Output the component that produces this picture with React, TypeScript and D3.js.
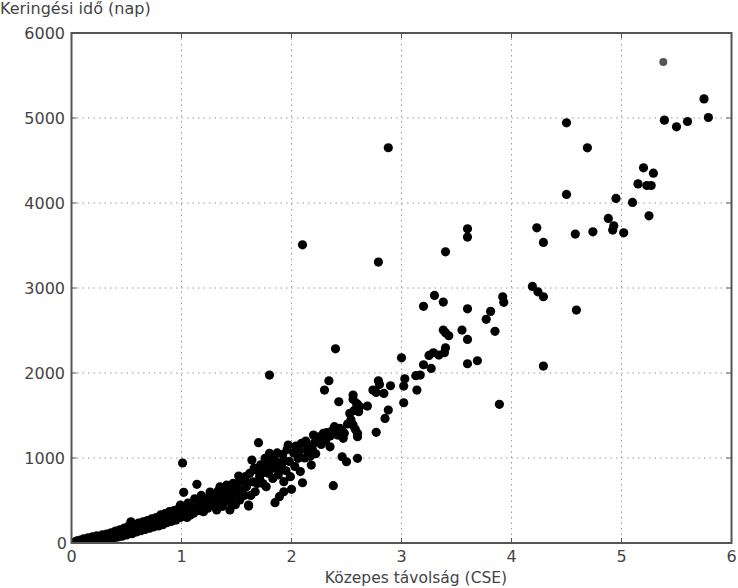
import * as d3 from "d3";

type Pt = [number, number];

// mean distance (AU) , orbital period (days)
const band0to1: Pt[] = [
  [0.01, 2], [0.03, 10], [0.04, 0], [0.05, 25], [0.07, 8], [0.08, 35], [0.1, 15], [0.11, 48],
  [0.12, 0], [0.14, 30], [0.15, 60], [0.17, 12], [0.18, 45], [0.19, 72], [0.21, 25], [0.22, 58],
  [0.23, 85], [0.25, 10], [0.26, 40], [0.27, 75], [0.28, 95], [0.3, 30], [0.31, 60], [0.32, 105],
  [0.34, 45], [0.35, 85], [0.36, 120], [0.38, 55], [0.39, 100], [0.4, 140], [0.42, 70], [0.43, 115],
  [0.44, 155], [0.46, 80], [0.47, 130], [0.48, 175], [0.5, 95], [0.51, 150], [0.52, 200], [0.54, 250],
  [0.55, 110], [0.56, 165], [0.57, 215], [0.59, 130], [0.6, 185], [0.61, 235], [0.63, 145], [0.64, 200],
  [0.65, 250], [0.67, 160], [0.68, 220], [0.69, 265], [0.71, 175], [0.72, 235], [0.73, 285], [0.75, 190],
  [0.76, 250], [0.77, 300], [0.79, 200], [0.8, 270], [0.81, 330], [0.83, 215], [0.84, 290], [0.85, 345],
  [0.87, 240], [0.88, 305], [0.89, 370], [0.91, 255], [0.92, 320], [0.93, 380], [0.95, 270], [0.96, 345],
  [0.97, 400], [0.99, 300], [0.99, 447],
];

const band1to2: Pt[] = [
  [1.01, 941], [1.02, 596], [1.14, 690], [1.08, 447], [1.08, 329], [1.2, 506], [1.2, 368], [1.29, 564],
  [1.32, 388], [1.35, 662], [1.38, 466], [1.44, 486], [1.44, 388], [1.47, 702], [1.5, 584], [1.52, 788],
  [1.53, 506], [1.56, 623], [1.59, 702], [1.59, 662], [1.61, 447], [1.61, 435], [1.64, 976], [1.67, 603],
  [1.68, 858], [1.7, 1180], [1.71, 741], [1.71, 780], [1.76, 996], [1.77, 662], [1.8, 1976], [1.8, 1055],
  [1.83, 760], [1.85, 474], [1.89, 545], [1.9, 858], [1.93, 976], [1.93, 721], [1.93, 603], [1.97, 1152],
  [1.99, 780],
  [1.02, 380], [1.04, 430], [1.05, 300], [1.06, 470], [1.1, 400], [1.11, 350], [1.12, 520], [1.15, 420],
  [1.16, 470], [1.17, 380], [1.18, 560], [1.22, 450], [1.23, 520], [1.24, 410], [1.26, 600], [1.27, 480],
  [1.3, 440], [1.31, 530], [1.33, 610], [1.34, 500], [1.36, 560], [1.37, 430], [1.39, 620], [1.4, 530],
  [1.41, 680], [1.42, 580], [1.45, 640], [1.46, 540], [1.48, 660], [1.49, 450], [1.51, 700], [1.54, 620],
  [1.55, 740], [1.57, 560], [1.58, 780], [1.6, 700], [1.62, 820], [1.63, 560], [1.65, 720], [1.66, 880],
  [1.69, 700], [1.72, 920], [1.73, 820], [1.74, 700], [1.75, 860], [1.78, 940], [1.79, 820], [1.81, 900],
  [1.82, 1000], [1.84, 880], [1.86, 960], [1.87, 1060], [1.88, 800], [1.91, 920], [1.92, 1040], [1.95, 850],
  [1.96, 1100], [1.98, 960],
];

const band2to3: Pt[] = [
  [2.0, 631], [2.06, 996], [2.09, 1172], [2.1, 3508], [2.1, 709], [2.14, 1094], [2.18, 917], [2.2, 1270],
  [2.24, 1211], [2.29, 1290], [2.3, 1799], [2.34, 1909], [2.35, 1258], [2.35, 1132], [2.38, 674], [2.39, 1368],
  [2.4, 2285], [2.43, 1662], [2.46, 1321], [2.46, 1015], [2.47, 1231], [2.5, 956], [2.53, 1525], [2.55, 1399],
  [2.56, 1740], [2.56, 1690], [2.56, 1388], [2.58, 1337], [2.59, 1643], [2.6, 1631], [2.6, 1290], [2.6, 1250],
  [2.6, 996], [2.61, 1544], [2.62, 1603], [2.69, 1611], [2.74, 1799], [2.77, 1772], [2.77, 1302], [2.79, 1909],
  [2.79, 3305], [2.8, 1866], [2.84, 1760], [2.85, 1466], [2.88, 1564], [2.88, 4650], [2.9, 1850],
  [2.02, 1060], [2.03, 900], [2.04, 1140], [2.07, 1080], [2.08, 840], [2.12, 1000], [2.13, 1200], [2.16, 1150],
  [2.17, 1020], [2.19, 1100], [2.21, 1180], [2.22, 1050], [2.25, 1250], [2.27, 1160], [2.28, 1220], [2.31, 1200],
  [2.32, 1300], [2.37, 1320], [2.42, 1270], [2.44, 1350], [2.48, 1290], [2.51, 1400], [2.54, 1450], [2.57, 1560],
];

const band3to4: Pt[] = [
  [3.0, 2179], [3.02, 1846], [3.02, 1650], [3.03, 1932], [3.13, 1968], [3.14, 1799], [3.17, 1976], [3.2, 2097],
  [3.2, 2784], [3.25, 2207], [3.27, 2054], [3.29, 2238], [3.3, 2913], [3.34, 2211], [3.38, 2834], [3.38, 2505],
  [3.39, 2238], [3.4, 3426], [3.4, 2473], [3.4, 2297], [3.43, 2438], [3.55, 2505], [3.6, 3696], [3.6, 3599],
  [3.6, 2755], [3.6, 2395], [3.6, 2109], [3.69, 2144], [3.77, 2631], [3.81, 2725], [3.85, 2490], [3.89, 1631],
  [3.92, 2897], [3.93, 2831],
];

const band4to6: Pt[] = [
  [4.19, 3019], [4.23, 3708], [4.24, 2955], [4.29, 3536], [4.29, 2897], [4.29, 2082], [4.5, 4943], [4.5, 4101],
  [4.58, 3634], [4.59, 2740], [4.69, 4649], [4.74, 3661], [4.88, 3818], [4.92, 3681], [4.93, 3731], [4.95, 4054],
  [5.02, 3649], [5.1, 4007], [5.15, 4225], [5.2, 4414], [5.23, 4206], [5.25, 3849], [5.27, 4206], [5.29, 4351],
  [5.39, 4975], [5.5, 4896], [5.6, 4959], [5.75, 5225], [5.79, 5006],
];

const greyPoint: Pt[] = [[5.38, 5660]];

const xTicks = [0, 1, 2, 3, 4, 5, 6];
const yTicks = [0, 1000, 2000, 3000, 4000, 5000, 6000];
const xLabel = "Közepes távolság (CSE)";
const yLabel = "Keringési idő (nap)";

const W = 738;
const H = 588;
const frame = { left: 71.5, right: 731.5, top: 33, bottom: 543 };
const font = "'DejaVu Sans', sans-serif";

export default function App() {
  const x = d3.scaleLinear().domain([0, 6]).range([frame.left, frame.right]);
  const y = d3.scaleLinear().domain([0, 6000]).range([frame.bottom, frame.top]);
  const points = [...band0to1, ...band1to2, ...band2to3, ...band3to4, ...band4to6];
  const axisColor = "#555";
  const textColor = "#444";

  return (
    <svg
      width={W}
      height={H}
      style={{ position: "absolute", left: 0, top: 0, background: "#fff" }}
    >
      <defs>
        <clipPath id="plot">
          <rect x={frame.left} y={frame.top} width={frame.right - frame.left} height={frame.bottom - frame.top} />
        </clipPath>
      </defs>
      <rect width={W} height={H} fill="#fff" />

      {/* grid */}
      {xTicks.slice(1, -1).map((t) => (
        <line key={"gx" + t} x1={x(t)} x2={x(t)} y1={frame.top} y2={frame.bottom}
          stroke="#999" strokeWidth={1} strokeDasharray="1.5,4" />
      ))}
      {yTicks.slice(1, -1).map((t) => (
        <line key={"gy" + t} x1={frame.left} x2={frame.right} y1={y(t)} y2={y(t)}
          stroke="#999" strokeWidth={1} strokeDasharray="1.5,4" />
      ))}

      {/* points */}
      <g clipPath="url(#plot)">
        {points.map((d, i) => (
          <circle key={i} cx={x(d[0])} cy={y(d[1])} r={4.6} fill="#000" />
        ))}
        {greyPoint.map((d, i) => (
          <circle key={"g" + i} cx={x(d[0])} cy={y(d[1])} r={4} fill="#555" />
        ))}
      </g>

      {/* ticks (inward, all sides) */}
      {xTicks.map((t) => (
        <g key={"tx" + t}>
          <line x1={x(t)} x2={x(t)} y1={frame.bottom} y2={frame.bottom - 5} stroke={axisColor} />
          <line x1={x(t)} x2={x(t)} y1={frame.top} y2={frame.top + 5} stroke={axisColor} />
        </g>
      ))}
      {yTicks.map((t) => (
        <g key={"ty" + t}>
          <line x1={frame.left} x2={frame.left + 5} y1={y(t)} y2={y(t)} stroke={axisColor} />
          <line x1={frame.right} x2={frame.right - 5} y1={y(t)} y2={y(t)} stroke={axisColor} />
        </g>
      ))}

      {/* frame */}
      <rect x={frame.left} y={frame.top} width={frame.right - frame.left} height={frame.bottom - frame.top}
        fill="none" stroke={axisColor} strokeWidth={2} />

      {/* tick labels */}
      {xTicks.map((t) => (
        <text key={"lx" + t} x={x(t)} y={562} textAnchor="middle" fontFamily={font} fontSize={16} fill={textColor}>
          {t}
        </text>
      ))}
      {yTicks.map((t) => (
        <text key={"ly" + t} x={t === 0 ? 67 : 65} y={y(t) + 6} textAnchor="end" fontFamily={font} fontSize={16} fill={textColor}>
          {t}
        </text>
      ))}

      {/* axis titles */}
      <text x={416} y={583} textAnchor="middle" fontFamily={font} fontSize={15.5} fill={textColor}>
        {xLabel}
      </text>
      <text x={0} y={14} textAnchor="start" fontFamily={font} fontSize={16} fill={textColor}>
        {yLabel}
      </text>
    </svg>
  );
}
